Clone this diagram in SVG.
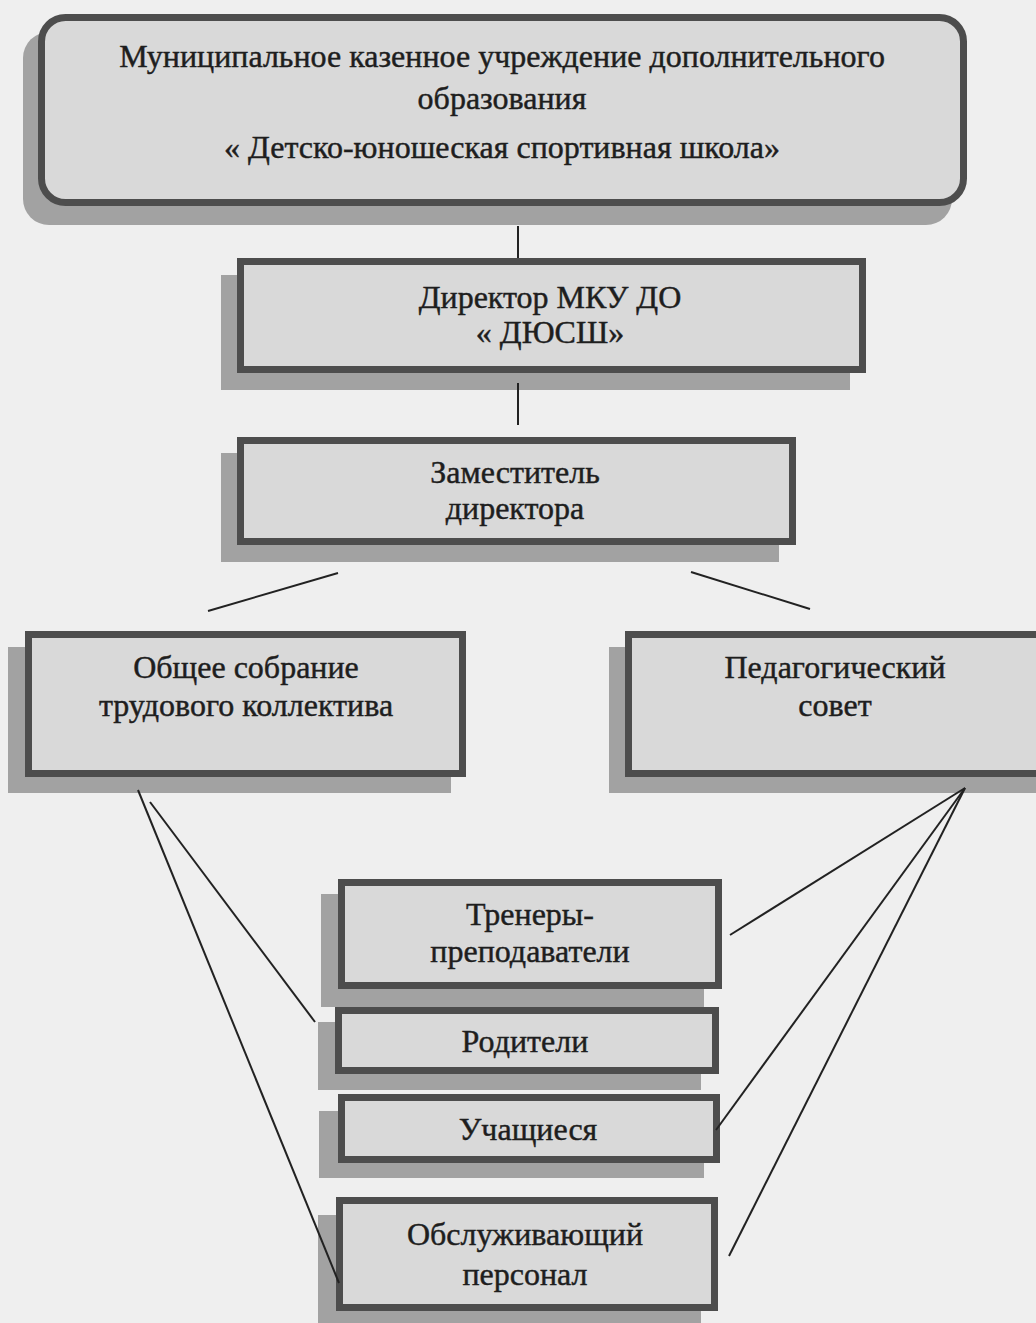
<svg xmlns="http://www.w3.org/2000/svg" width="1036" height="1323" viewBox="0 0 1036 1323">
<style>
.bg{fill:#efefef}
.sh{fill:#a2a2a2}
.bx{fill:#d9d9d9;stroke:#4d4d4d;stroke-width:7}
.t{font-family:"Liberation Serif","Times New Roman",serif;font-size:32px;fill:#1e1e1e;stroke:#1e1e1e;stroke-width:0.45;text-anchor:middle}
.ln{stroke:#222;stroke-width:2;fill:none}
</style>
<rect class="bg" x="0" y="0" width="1036" height="1323"/>
<g id="n-top">
<rect class="sh" x="23" y="32" width="929" height="193" rx="26"/>
<rect class="bx" x="41.5" y="17.5" width="922" height="185" rx="24"/>
<text class="t" x="502" y="67">Муниципальное казенное учреждение дополнительного</text>
<text class="t" x="502" y="109">образования</text>
<text class="t" x="502" y="158">« Детско-юношеская спортивная школа»</text>
</g>
<g id="n-director">
<rect class="sh" x="221" y="275" width="629" height="115"/>
<rect class="bx" x="240.5" y="261.5" width="622" height="108"/>
<text class="t" x="550" y="308">Директор МКУ ДО</text>
<text class="t" x="550" y="343">« ДЮСШ»</text>
</g>
<g id="n-deputy">
<rect class="sh" x="221" y="453" width="558" height="109"/>
<rect class="bx" x="240.5" y="440.5" width="552" height="101"/>
<text class="t" x="515" y="483">Заместитель</text>
<text class="t" x="515" y="519">директора</text>
</g>
<g id="n-assembly">
<rect class="sh" x="8" y="647" width="443" height="146"/>
<rect class="bx" x="28.5" y="634.5" width="434" height="139"/>
<text class="t" x="246" y="678">Общее собрание</text>
<text class="t" x="246" y="716">трудового коллектива</text>
</g>
<g id="n-council">
<rect class="sh" x="609" y="647" width="427" height="146"/>
<rect class="bx" x="628.5" y="634.5" width="420" height="139"/>
<text class="t" x="835" y="678">Педагогический</text>
<text class="t" x="835" y="716">совет</text>
</g>
<g id="n-coaches">
<rect class="sh" x="321" y="894" width="383" height="113"/>
<rect class="bx" x="341.5" y="882.5" width="377" height="103"/>
<text class="t" x="530" y="925">Тренеры-</text>
<text class="t" x="530" y="962">преподаватели</text>
</g>
<g id="n-parents">
<rect class="sh" x="318" y="1022" width="383" height="68"/>
<rect class="bx" x="338.5" y="1010.5" width="377" height="60"/>
<text class="t" x="525" y="1052">Родители</text>
</g>
<g id="n-students">
<rect class="sh" x="319" y="1111" width="385" height="67"/>
<rect class="bx" x="341.5" y="1097.5" width="375" height="62"/>
<text class="t" x="528" y="1140">Учащиеся</text>
</g>
<g id="n-staff">
<rect class="sh" x="318" y="1215" width="383" height="115"/>
<rect class="bx" x="339.5" y="1200.5" width="375" height="107"/>
<text class="t" x="525" y="1245">Обслуживающий</text>
<text class="t" x="525" y="1285">персонал</text>
</g>
<g id="connectors">
<line class="ln" x1="518" y1="226" x2="518" y2="258"/>
<line class="ln" x1="518" y1="383" x2="518" y2="425"/>
<line class="ln" x1="338" y1="573" x2="208" y2="611"/>
<line class="ln" x1="691" y1="572" x2="810" y2="609"/>
<line class="ln" x1="138" y1="790" x2="339" y2="1283"/>
<line class="ln" x1="150" y1="802" x2="315" y2="1022"/>
<line class="ln" x1="965" y1="788" x2="730" y2="935"/>
<line class="ln" x1="965" y1="788" x2="716" y2="1130"/>
<line class="ln" x1="965" y1="788" x2="729" y2="1256"/>
</g>
</svg>
